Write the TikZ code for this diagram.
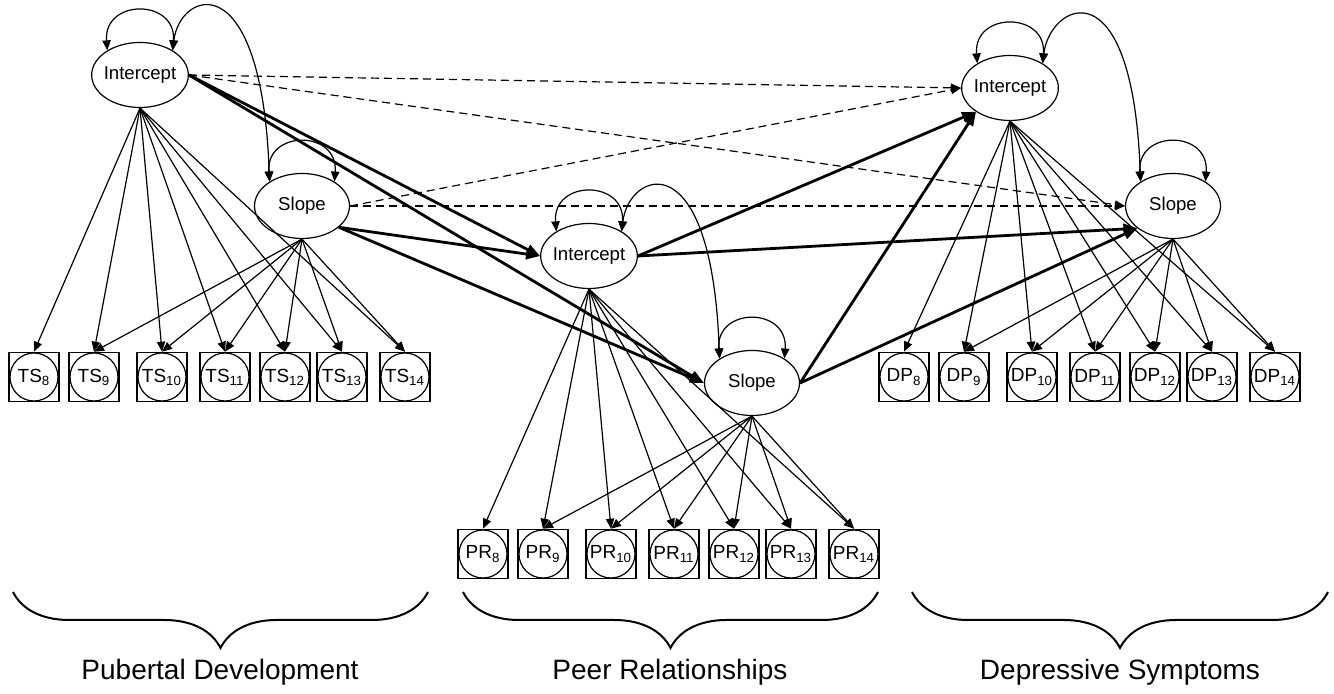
\documentclass[tikz,border=0pt]{standalone}
\usepackage{fontspec}
\setmainfont{Liberation Sans}
\usetikzlibrary{arrows.meta, shapes.geometric, decorations.pathreplacing}

\tikzset{
  latent/.style={draw, ellipse, fill=white, line width=0.6pt, minimum width=47.5pt,
    minimum height=32.5pt, inner xsep=-1pt, inner ysep=0pt, font=\fontsize{9.3}{10}\selectfont},
  manifest/.style={draw, rectangle, line width=0.8pt, minimum width=25pt, minimum height=24.5pt,
    inner sep=0pt, font=\fontsize{9.5}{10}\selectfont,
    path picture={\draw[line width=0.6pt] (path picture bounding box.center) circle (12pt);}},
  load/.style={-{Triangle[length=5pt,width=4.2pt]}, line width=0.6pt},
  cov/.style={{Triangle[length=5pt,width=4.2pt]}-{Triangle[length=5pt,width=4.2pt]}, line width=0.6pt},
  cross/.style={-{Triangle[length=5pt,width=4.2pt]}, line width=0.6pt, dash pattern=on 4pt off 2.5pt},
  effect/.style={-{Triangle[length=7pt,width=5.2pt]}, line width=1.4pt},
  grpbrace/.style={decorate, decoration={brace, amplitude=28pt, mirror}, line width=1pt},
  grplabel/.style={anchor=base, font=\fontsize{14}{16}\selectfont}
}

\begin{document}
\begin{tikzpicture}[x=0.5pt, y=0.5pt]
  \useasboundingbox (0,0) rectangle (1334,-694);

  % growth factors
  \node[latent] (pdI) at (140,-75)  {Intercept};
  \node[latent] (pdS) at (302,-206) {Slope};
  \node[latent] (prI) at (589,-256) {Intercept};
  \node[latent] (prS) at (752,-383) {Slope};
  \node[latent] (dsI) at (1010,-88) {Intercept};
  \node[latent] (dsS) at (1173,-206) {Slope};

  % repeated measures, ages 8 to 14
  \foreach \d [count=\i from 8] in {0,60,128,191,251,308,371} {
    \node[manifest] (ts\i) at (34+\d,-377)  {TS\textsubscript{\i}};
    \node[manifest] (pr\i) at (483+\d,-554) {PR\textsubscript{\i}};
    \node[manifest] (dp\i) at (904+\d,-377) {DP\textsubscript{\i}};
  }

  % loadings
  \foreach \g/\b in {pd/ts, pr/pr, ds/dp} {
    \foreach \i in {8,...,14}
      \draw[load] (\g I.south) -- (\b\i.north);
    \foreach \i in {9,...,14}
      \draw[load] (\g S.south) -- (\b\i.north);
    % variances and intercept-slope covariance
    \draw[cov] (\g I.143) .. controls +(-4,52) and +(4,52) .. (\g I.37);
    \draw[cov] (\g S.143) .. controls +(-4,52) and +(4,52) .. (\g S.37);
    \draw[cov] (\g I.37) .. controls +(7,60) and +(-8,220) .. (\g S.143);
  }

  % pubertal development -> depressive symptoms (direct)
  \path[cross]
    (pdI.east) edge (dsI.west)
               edge (dsS.west)
    (pdS.east) edge (dsI.west)
               edge (dsS.west);

  % mediated paths through peer relationships
  \path[effect]
    (pdI.east)  edge (prI.west)
                edge (prS.west)
    (pdS.-30)   edge (prI.west)
                edge (prS.west)
    (prI.east)  edge (dsI.-145)
                edge (dsS.-148)
    (prS.east)  edge (dsI.-145)
                edge (dsS.-148);

  % construct labels
  \draw[grpbrace] (13,-592) -- (428,-592);
  \draw[grpbrace] (463,-592) -- (878,-592);
  \draw[grpbrace] (912,-592) -- (1328,-592);
  \node[grplabel] (lblPD) at (220,-680)  {Pubertal Development};
  \node[grplabel] (lblPR) at (670,-680)  {Peer Relationships};
  \node[grplabel] (lblDS) at (1120,-680) {Depressive Symptoms};
\end{tikzpicture}
\end{document}
